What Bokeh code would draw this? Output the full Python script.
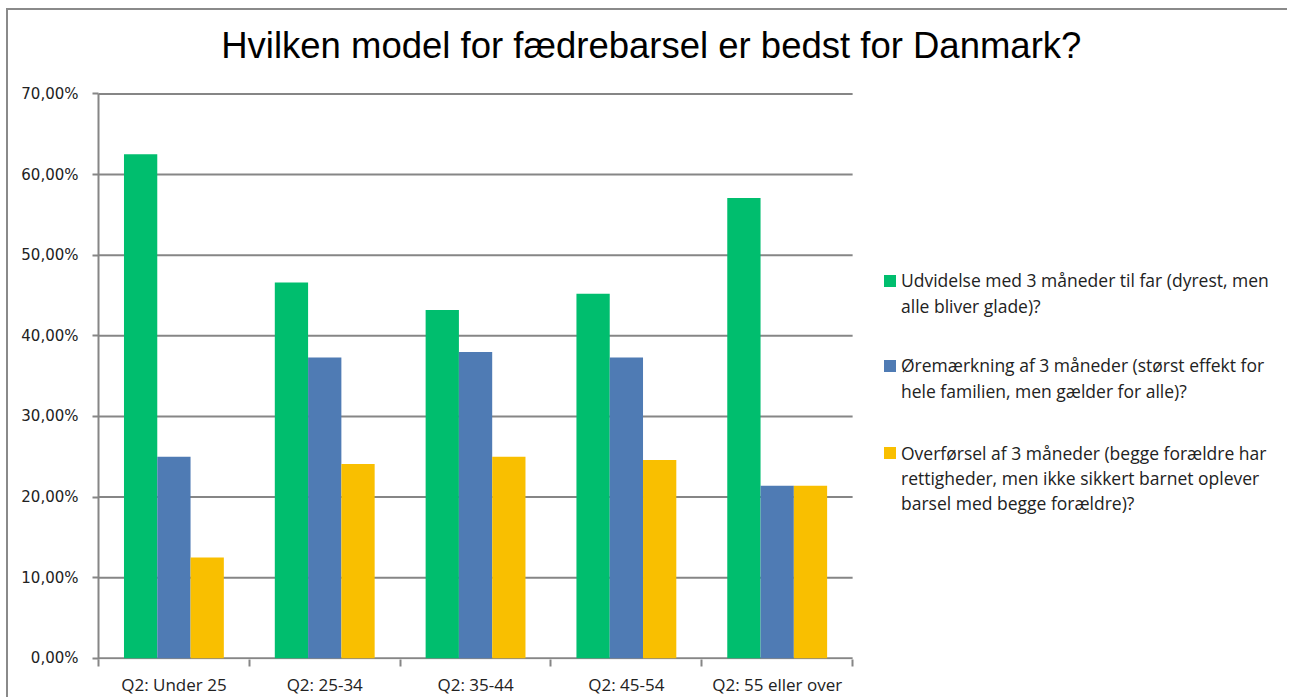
from bokeh.plotting import figure
from bokeh.models import (FixedTicker, CustomJSTickFormatter, Legend, LegendItem,
                          Label, ColumnDataSource, Range1d)
from bokeh.embed import file_html
from bokeh.resources import INLINE

# ---- data ----
categories = ["Q2: Under 25", "Q2: 25-34", "Q2: 35-44", "Q2: 45-54", "Q2: 55 eller over"]
udvidelse = [62.5, 46.6, 43.2, 45.2, 57.1]
oremaerkning = [25.0, 37.3, 38.0, 37.3, 21.4]
overforsel = [12.5, 24.1, 25.0, 24.6, 21.4]
series_values = [udvidelse, oremaerkning, overforsel]
legend_lines = [
    ["Udvidelse med 3 måneder til far (dyrest, men", "alle bliver glade)?"],
    ["Øremærkning af 3 måneder (størst effekt for", "hele familien, men gælder for alle)?"],
    ["Overførsel af 3 måneder (begge forældre har",
     "rettigheder, men ikke sikkert barnet oplever",
     "barsel med begge forældre)?"],
]
colors = ["#00BE6E", "#4F7BB4", "#F9BF00"]
y_ticks = [0, 10, 20, 30, 40, 50, 60, 70]
title_text = "Hvilken model for fædrebarsel er bedst for Danmark?"

GRID = "#868686"
W, H = 1281, 689
BOTTOM_PANEL = 40
RIGHT_PAD = 4
LEFT = 89.7             # frame left (px)
BAR_AREA_RIGHT = 844.0  # right end of the bar/grid area (px)
PX_PER_UNIT = 8.063     # vertical scale (px per percentage point)
n = len(categories)
x_end = n * (W - RIGHT_PAD - LEFT) / (BAR_AREA_RIGHT - LEFT)
y_start = -0.15
y_end = y_start + (H - BOTTOM_PANEL) / PX_PER_UNIT

bar_w = 0.2207
offsets = [-bar_w, 0.0, bar_w]

p = figure(width=W, height=H, output_backend="svg", toolbar_location=None,
           x_range=Range1d(0, x_end), y_range=Range1d(y_start, y_end),
           min_border_left=90, min_border_right=RIGHT_PAD, min_border_top=0,
           min_border_bottom=BOTTOM_PANEL)
p.styles = {"border-left": "2px solid #8a8a8a", "border-top": "2px solid #8a8a8a",
            "margin-left": "6px", "margin-top": "8px",
            "background-color": "white", "outline": "none", "box-shadow": "none"}
p.outline_line_color = None
p.background_fill_color = "white"
p.border_fill_color = "white"

# title (placed inside the frame area above the bars)
p.add_layout(Label(x=552.8, y=614, x_units="screen", y_units="screen",
                   text=title_text, text_align="center", text_baseline="alphabetic",
                   text_font="Liberation Sans", text_font_size="36.5px",
                   text_color="#000000"))

# grid lines and baseline over the category area
p.xgrid.visible = False
p.ygrid.visible = False
p.segment(x0=[0] * len(y_ticks), x1=[n] * len(y_ticks), y0=y_ticks, y1=y_ticks,
          line_color=GRID, line_width=2)

renderers = []
for k, vals in enumerate(series_values):
    src = ColumnDataSource(dict(x=[i + 0.5 + offsets[k] for i in range(n)], top=vals))
    r = p.vbar(x="x", top="top", width=bar_w, bottom=0, source=src,
               fill_color=colors[k], line_color=None)
    renderers.append(r)

blank = p.vbar(x=[], top=[], width=0.1, fill_alpha=0, line_alpha=0)

# y axis
p.yaxis.ticker = FixedTicker(ticks=y_ticks)
p.yaxis.bounds = (y_start, y_ticks[-1])
p.yaxis.formatter = CustomJSTickFormatter(code="return tick.toFixed(2).replace('.', ',') + '%';")
p.yaxis.axis_line_color = GRID
p.yaxis.axis_line_width = 2
p.yaxis.major_tick_line_color = GRID
p.yaxis.major_tick_line_width = 2
p.yaxis.major_tick_out = 6
p.yaxis.major_tick_in = 0
p.yaxis.minor_tick_line_color = None
p.yaxis.major_label_text_font = "DejaVu Sans"
p.yaxis.major_label_text_font_size = "15px"
p.yaxis.major_label_text_color = "#222222"
p.yaxis.major_label_standoff = 14

# x axis: labels at category centres, ticks at category boundaries
p.xaxis.ticker = FixedTicker(ticks=[i + 0.5 for i in range(n)],
                             minor_ticks=list(range(n + 1)))
p.xaxis.major_label_overrides = {i + 0.5: c for i, c in enumerate(categories)}
p.xaxis.axis_line_color = None
p.xaxis.major_tick_line_color = None
p.xaxis.major_tick_out = 0
p.xaxis.major_tick_in = 0
p.xaxis.minor_tick_line_color = GRID
p.xaxis.minor_tick_line_width = 2
p.xaxis.minor_tick_out = 7
p.xaxis.minor_tick_in = 0
p.xaxis.major_label_text_font = "Open Sans"
p.xaxis.major_label_text_font_size = "17px"
p.xaxis.major_label_text_color = "#222222"
p.xaxis.major_label_standoff = 6

# legends (one per series, each text line as its own row)
legend_y = [340, 255, 144]
legend_row_h = [26, 26, 25]
for k, lines in enumerate(legend_lines):
    items = [LegendItem(label=lines[0], renderers=[renderers[k]])]
    for ln in lines[1:]:
        items.append(LegendItem(label=ln, renderers=[blank]))
    lg = Legend(items=items, location=(784, legend_y[k]), orientation="vertical",
                padding=0, margin=0, spacing=0, border_line_alpha=0,
                background_fill_alpha=0, glyph_width=15, glyph_height=15,
                label_height=legend_row_h[k], label_standoff=4,
                label_text_font="Open Sans", label_text_font_size="17.5px",
                label_text_color="#222222")
    p.add_layout(lg, "center")

open("out.html", "w").write(file_html(p, INLINE))
